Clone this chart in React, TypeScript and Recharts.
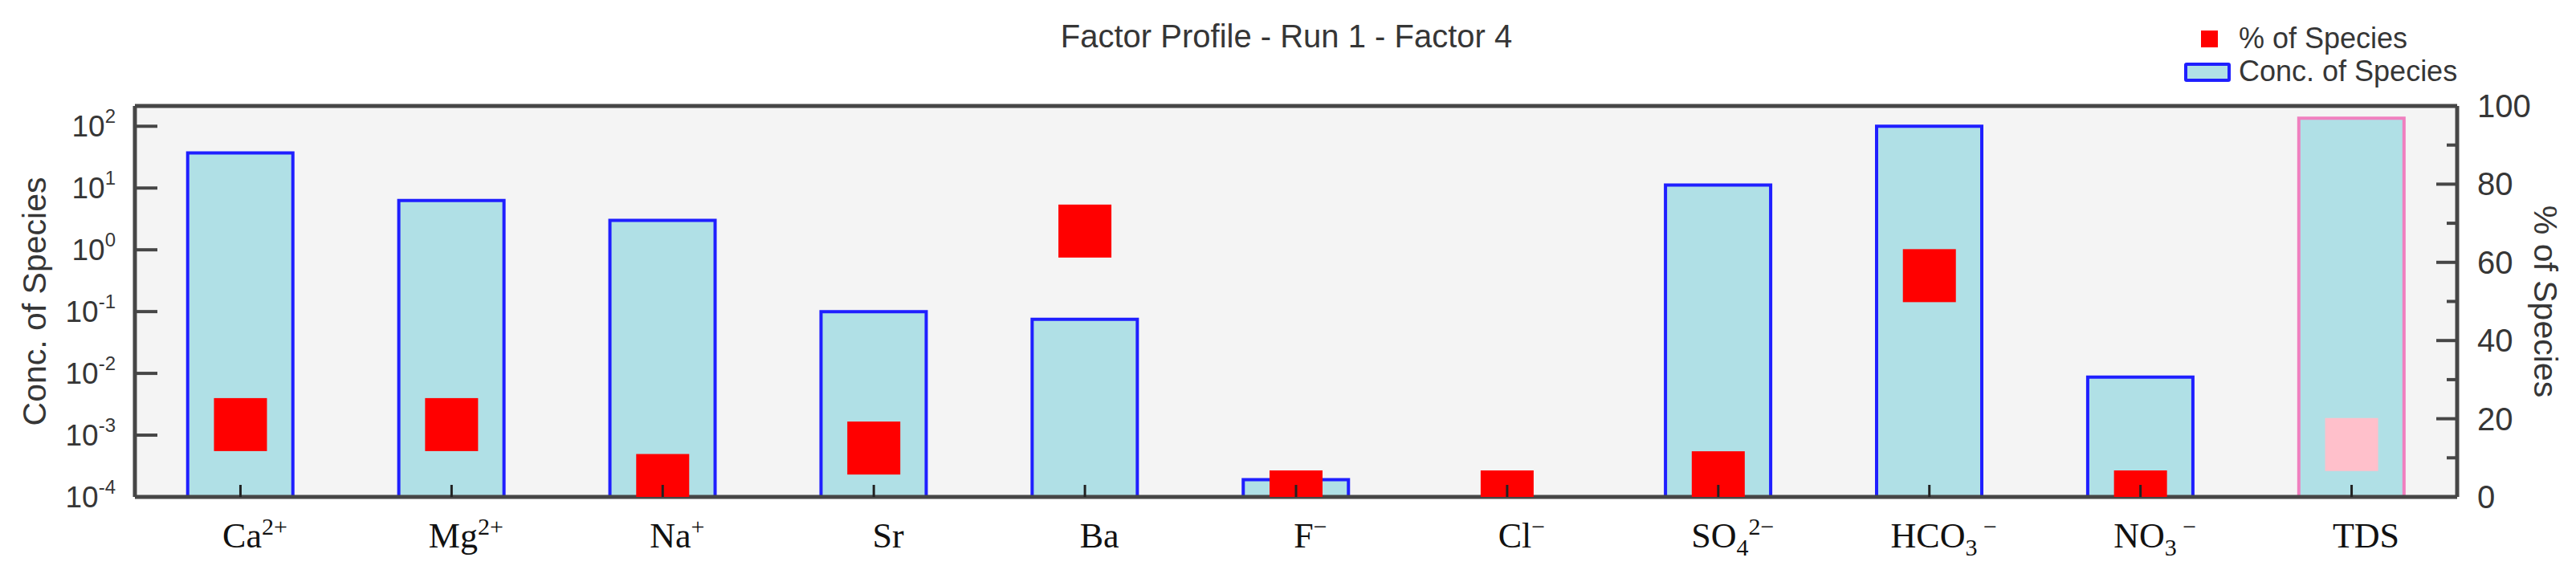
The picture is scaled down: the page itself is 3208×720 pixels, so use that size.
import React from "react";
import {
    ComposedChart,
    Bar,
    Scatter,
    XAxis,
    YAxis,
    CartesianGrid,
    Cell,
    ReferenceLine,
} from "recharts";

// species on the x axis; ^{..} = superscript, _{..} = subscript
const speciesLabels = [
    "Ca^{2+}",
    "Mg^{2+}",
    "Na^{+}",
    "Sr",
    "Ba",
    "F^{−}",
    "Cl^{−}",
    "SO_{4}^{2−}",
    "HCO_{3}^{ −}",
    "NO_{3}^{ −}",
    "TDS",
];
// left axis (log), bars
const concOfSpecies = [37, 6.3, 3.0, 0.1, 0.075, 0.00019, null, 11.2, 100, 0.0087, 135];
// right axis (%), red squares
const pctOfSpecies = [18.5, 18.5, 4.2, 12.5, 68, 0, 0, 4.9, 56.6, 0, 13.4];

const concTicks = [0.0001, 0.001, 0.01, 0.1, 1, 10, 100];
const pctTicks = [0, 10, 20, 30, 40, 50, 60, 70, 80, 90, 100];

const titleText = "Factor Profile - Run 1 - Factor 4";
const pctName = "% of Species";
const concName = "Conc. of Species";
const totalLabel = "TDS";

const data = speciesLabels.map((species, i) => ({
    species,
    conc: concOfSpecies[i],
    pct: pctOfSpecies[i],
}));

const SANS = '"Liberation Sans", Arial, sans-serif';
const SERIF = '"Liberation Serif", "Times New Roman", serif';
const FRAME = "#464646";
const TEXT = "#363636";
const BAR_FILL = "#b0e0e6";
const BAR_STROKE = "#1f1fff";
const TOTAL_STROKE = "#f07fbf";
const MARKER = "#ff0000";
const TOTAL_MARKER = "#ffc0cb";

function splitLabel(label: string) {
    return label
        .split(/(\^\{[^}]*\}|_\{[^}]*\})/)
        .filter(Boolean)
        .map((p) => {
            if (p.startsWith("^{")) return { kind: "sup", text: p.slice(2, -1) };
            if (p.startsWith("_{")) return { kind: "sub", text: p.slice(2, -1) };
            return { kind: "base", text: p };
        });
}

function SpeciesTick(props: any) {
    const { x, y, payload } = props;
    const parts = splitLabel(String(payload.value));
    let shift = 0;
    return (
        <g>
            <line x1={x} x2={x} y1={y} y2={y - 15} stroke="#222" strokeWidth={3} />
            <text x={x + 18} y={y + 63} textAnchor="middle" fontFamily={SERIF} fontSize={44} fill="#111">
                {parts.map((p, i) => {
                    const target = p.kind === "sup" ? -16 : p.kind === "sub" ? 10 : 0;
                    const dy = target - shift;
                    shift = target;
                    return (
                        <tspan key={i} dy={dy} fontSize={p.kind === "base" ? 44 : 30}>
                            {p.text}
                        </tspan>
                    );
                })}
            </text>
        </g>
    );
}

function ConcTick(props: any) {
    const { x, y, payload } = props;
    const exp = Math.round(Math.log10(payload.value));
    return (
        <g>
            <line x1={x} x2={x + 28} y1={y} y2={y} stroke={FRAME} strokeWidth={4} />
            <text x={x - 24} y={y + 13} textAnchor="end" fontFamily={SANS} fontSize={37} fill={TEXT}>
                10
                <tspan dy={-17} fontSize={24}>
                    {exp}
                </tspan>
            </text>
        </g>
    );
}

function PctTick(props: any) {
    const { x, y, payload } = props;
    const major = payload.value % 20 === 0;
    return (
        <g>
            <line x1={x} x2={x - (major ? 26 : 13)} y1={y} y2={y} stroke={FRAME} strokeWidth={4} />
            {major && (
                <text x={x + 25} y={y + 14} textAnchor="start" fontFamily={SANS} fontSize={40} fill={TEXT}>
                    {payload.value}
                </text>
            )}
        </g>
    );
}

function SquareMarker(props: any) {
    const { cx, cy, payload } = props;
    if (cx == null || cy == null) return null;
    const fill = payload && payload.species === totalLabel ? TOTAL_MARKER : MARKER;
    return <rect x={cx - 33} y={cy - 33} width={66} height={66} fill={fill} />;
}

const concAxisLabel = (p: any) => {
    const { x, y, height } = p.viewBox;
    const cx = x + 15;
    const cy = y + height / 2;
    return (
        <text
            x={cx}
            y={cy}
            transform={`rotate(-90 ${cx} ${cy})`}
            textAnchor="middle"
            dominantBaseline="central"
            fontFamily={SANS}
            fontSize={41}
            fill={TEXT}
        >
            {concName}
        </text>
    );
};

const pctAxisLabel = (p: any) => {
    const { x, y, height } = p.viewBox;
    const cx = x + 110;
    const cy = y + height / 2;
    return (
        <text
            x={cx}
            y={cy}
            transform={`rotate(90 ${cx} ${cy})`}
            textAnchor="middle"
            dominantBaseline="central"
            fontFamily={SANS}
            fontSize={41}
            fill={TEXT}
        >
            {pctName}
        </text>
    );
};

export default function App() {
    return (
        <div style={{ position: "absolute", left: 0, top: 0, width: 3208, height: 720, background: "#fff" }}>
            <ComposedChart
                width={3208}
                height={720}
                data={data}
                margin={{ top: 132, right: 28, bottom: 5, left: 28 }}
                barCategoryGap="25%"
            >
                <CartesianGrid fill="#f4f4f4" horizontal={false} vertical={false} />
                <Bar dataKey="conc" fill={BAR_FILL} stroke={BAR_STROKE} strokeWidth={4} isAnimationActive={false}>
                    {data.map((d, i) => (
                        <Cell key={i} stroke={d.species === totalLabel ? TOTAL_STROKE : BAR_STROKE} />
                    ))}
                </Bar>
                <Scatter yAxisId="pct" dataKey="pct" shape={SquareMarker} isAnimationActive={false} />
                <XAxis
                    dataKey="species"
                    height={96}
                    interval={0}
                    tickSize={0}
                    tickMargin={0}
                    tickLine={false}
                    axisLine={{ stroke: FRAME, strokeWidth: 5 }}
                    tick={SpeciesTick}
                />
                <YAxis
                    scale="log"
                    domain={[0.0001, 213]}
                    allowDataOverflow
                    ticks={concTicks}
                    interval={0}
                    width={140}
                    tickSize={0}
                    tickMargin={0}
                    tickLine={false}
                    axisLine={{ stroke: FRAME, strokeWidth: 5 }}
                    tick={ConcTick}
                    label={concAxisLabel}
                />
                <YAxis
                    yAxisId="pct"
                    orientation="right"
                    domain={[0, 100]}
                    allowDataOverflow
                    ticks={pctTicks}
                    interval={0}
                    width={120}
                    tickSize={0}
                    tickMargin={0}
                    tickLine={false}
                    axisLine={{ stroke: FRAME, strokeWidth: 5 }}
                    tick={PctTick}
                    label={pctAxisLabel}
                />
                <ReferenceLine yAxisId="pct" y={100} stroke={FRAME} strokeWidth={5} />
            </ComposedChart>

            <div
                style={{
                    position: "absolute",
                    left: 1002,
                    top: 25,
                    width: 1200,
                    textAlign: "center",
                    fontFamily: SANS,
                    fontSize: 40,
                    lineHeight: "40px",
                    color: TEXT,
                    whiteSpace: "nowrap",
                }}
            >
                {titleText}
            </div>

            <div style={{ position: "absolute", left: 2741, top: 38, width: 21, height: 21, background: MARKER }} />
            <div
                style={{
                    position: "absolute",
                    left: 2788,
                    top: 30,
                    fontFamily: SANS,
                    fontSize: 36,
                    lineHeight: "36px",
                    color: TEXT,
                    whiteSpace: "nowrap",
                }}
            >
                {pctName}
            </div>
            <div
                style={{
                    position: "absolute",
                    left: 2720,
                    top: 78,
                    width: 58,
                    height: 24,
                    boxSizing: "border-box",
                    border: `4px solid ${BAR_STROKE}`,
                    borderRadius: 3,
                    background: BAR_FILL,
                }}
            />
            <div
                style={{
                    position: "absolute",
                    left: 2788,
                    top: 71,
                    fontFamily: SANS,
                    fontSize: 36,
                    lineHeight: "36px",
                    color: TEXT,
                    whiteSpace: "nowrap",
                }}
            >
                {concName}
            </div>
        </div>
    );
}
